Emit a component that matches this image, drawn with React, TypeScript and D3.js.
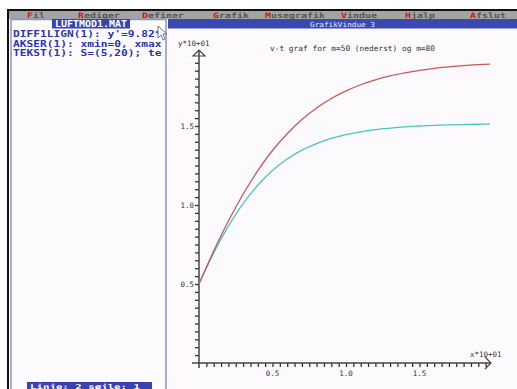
import React, { useEffect, useRef } from 'react';
import * as d3 from 'd3';

// readings off the screen (time *10 s, speed *10 m/s)
const tValues = [0, 0.1, 0.2, 0.3, 0.4, 0.5, 0.6, 0.7, 0.8, 0.9, 1.0, 1.1, 1.2, 1.3, 1.4, 1.5, 1.6, 1.7, 1.8, 1.9, 1.98];
const vHeavy = [0.5, 0.708, 0.899, 1.068, 1.217, 1.345, 1.451, 1.541, 1.614, 1.674, 1.722, 1.761, 1.792, 1.817, 1.836, 1.852, 1.865, 1.874, 1.882, 1.888, 1.892];
const vLight = [0.5, 0.696, 0.866, 1.009, 1.125, 1.218, 1.291, 1.347, 1.389, 1.421, 1.445, 1.463, 1.477, 1.487, 1.495, 1.5, 1.504, 1.507, 1.509, 1.511, 1.512];
const xTickLabels = ['0.5', '1.0', '1.5'];
const yTickLabels = ['0.5', '1.0', '1.5'];
const menuItems = ['Fil', 'Rediger', 'Definer', 'Grafik', 'Musegrafik', 'Vindue', 'Hjalp', 'Afslut'];
const menuX = [27, 78, 142, 213, 265, 341, 405, 470];
const editorLines = ["DIFF1LIGN(1): y'=9.82*", 'AKSER(1): xmin=0, xmax', 'TEKST(1): S=(5,20); te'];

const mono = '"DejaVu Sans Mono", monospace';

const App = () => {
  const xAxisRef = useRef<SVGGElement>(null);
  const yAxisRef = useRef<SVGGElement>(null);

  const x = d3.scaleLinear().domain([0, 1]).range([199, 346]);
  const y = d3.scaleLinear().domain([0, 1]).range([363, 205]);

  const line = (vals: number[]) =>
    d3.line<number>()
      .x((d, i) => x(tValues[i]))
      .y(d => y(d))
      .curve(d3.curveCatmullRom)(vals) || '';

  const x0 = x(0);
  const y0 = y(0);
  const xEnd = 491;
  const yTop = 50;

  useEffect(() => {
    // minor ticks every 0.05
    const steps = d3.range(1, 40).map(i => i * 0.05);
    const xAxis = d3.axisBottom(x)
      .tickValues(steps.filter(t => x(t) < xEnd - 4))
      .tickSize(4)
      .tickFormat(() => '');
    const yAxis = d3.axisLeft(y)
      .tickValues(steps.filter(t => y(t) > yTop + 6))
      .tickSize(4)
      .tickFormat(() => '');
    const gx = d3.select(xAxisRef.current!);
    gx.selectAll('*').remove();
    gx.call(xAxis);
    gx.select('.domain').remove();
    gx.selectAll('line').attr('stroke', '#333').attr('stroke-width', 1.3);
    const gy = d3.select(yAxisRef.current!);
    gy.selectAll('*').remove();
    gy.call(yAxis);
    gy.select('.domain').remove();
    gy.selectAll('line').attr('stroke', '#333').attr('stroke-width', 1.3);
  }, []);

  return (
    <svg width={517} height={389} style={{ position: 'absolute', left: 0, top: 0, background: '#fff' }}>
      <defs>
        <clipPath id="ed">
          <rect x={12} y={29} width={154} height={350} />
        </clipPath>
      </defs>

      {/* frame */}
      <rect x={7} y={9} width={510} height={2} fill="#111" />
      <rect x={7} y={9} width={2} height={380} fill="#111" />

      {/* menu bar */}
      <rect x={9} y={11} width={508} height={8} fill="#a4a4a4" />
      {menuItems.map((m, i) => (
        <text key={m} x={menuX[i]} y={17.5} fontFamily={mono} fontWeight="bold" fontSize={7.5}
          fill="#555" textLength={m.length * 6} lengthAdjust="spacingAndGlyphs">
          <tspan fill="#c81818">{m[0]}</tspan>{m.slice(1)}
        </text>
      ))}

      {/* editor window */}
      <rect x={11} y={19.5} width={155} height={372} fill="#fdfbfd" stroke="#8a90d8" strokeWidth={1.5} />
      <rect x={52} y={19} width={78} height={9.5} fill="#3a42b0" />
      <text x={55} y={27} fontFamily={mono} fontWeight="bold" fontSize={8}
        fill="#fff" textLength={72} lengthAdjust="spacingAndGlyphs">LUFTMOD1.MAT</text>
      <g clipPath="url(#ed)">
        {editorLines.map((l, i) => (
          <text key={i} x={13} y={37 + i * 9.5} fontFamily={mono} fontWeight="bold" fontSize={8.5}
            fill="#2a36b0" textLength={l.length * 6.75} lengthAdjust="spacingAndGlyphs">{l}</text>
        ))}
      </g>
      <path d="M158,26 L158,38 L161,35 L163,40 L165,39 L163,34 L167,34 Z" fill="#fff" stroke="#555" strokeWidth={0.8} />
      <rect x={27} y={382} width={125} height={7} fill="#3a42b0" />
      <text x={30} y={388.5} fontFamily={mono} fontWeight="bold" fontSize={6.5} fill="#fff"
        textLength={110} lengthAdjust="spacingAndGlyphs">Linje: 2 søjle: 1</text>

      {/* graph window */}
      <rect x={168} y={19} width={349} height={370} fill="#fdfafd" />
      <rect x={168} y={19} width={349} height={9.5} fill="#3a48b0" />
      <text x={310} y={26.5} fontFamily={mono} fontSize={7} fill="#e8e8ff"
        textLength={65} lengthAdjust="spacingAndGlyphs">GrafikVindue  3</text>

      <text x={270} y={51} fontFamily={mono} fontSize={7.6} fill="#333"
        textLength={165} lengthAdjust="spacingAndGlyphs">v-t graf for m=50 (nederst) og m=80</text>
      <text x={178} y={46} fontFamily={mono} fontSize={7.5} fill="#333">y*10+01</text>
      <text x={470} y={357} fontFamily={mono} fontSize={7.5} fill="#333">x*10+01</text>

      {/* axes */}
      <g ref={xAxisRef} transform={`translate(0,${y0})`} />
      <g ref={yAxisRef} transform={`translate(${x0},0)`} />
      <line x1={192} x2={xEnd} y1={y0} y2={y0} stroke="#444" strokeWidth={1.5} />
      <line x1={x0} x2={x0} y1={368} y2={yTop} stroke="#444" strokeWidth={1.5} />
      <path d={`M${xEnd - 6},${y0 - 6} L${xEnd},${y0} L${xEnd - 6},${y0 + 6}`} fill="none" stroke="#444" strokeWidth={1.2} />
      <path d={`M${x0 - 6},${yTop + 6} L${x0},${yTop} L${x0 + 6},${yTop + 6} Z`} fill="none" stroke="#444" strokeWidth={1.2} />
      {xTickLabels.map(l => (
        <text key={'xl' + l} x={x(+l)} y={y0 + 13} textAnchor="middle" fontFamily={mono} fontSize={7.5} fill="#333">{l}</text>
      ))}
      {yTickLabels.map(l => (
        <text key={'yl' + l} x={x0 - 5} y={y(+l) + 2.5} textAnchor="end" fontFamily={mono} fontSize={7.5} fill="#333">{l}</text>
      ))}

      {/* curves */}
      <path d={line(vLight)} fill="none" stroke="#4cc4c0" strokeWidth={1.3} />
      <path d={line(vHeavy)} fill="none" stroke="#c85858" strokeWidth={1.3} />
    </svg>
  );
};

export default App;
